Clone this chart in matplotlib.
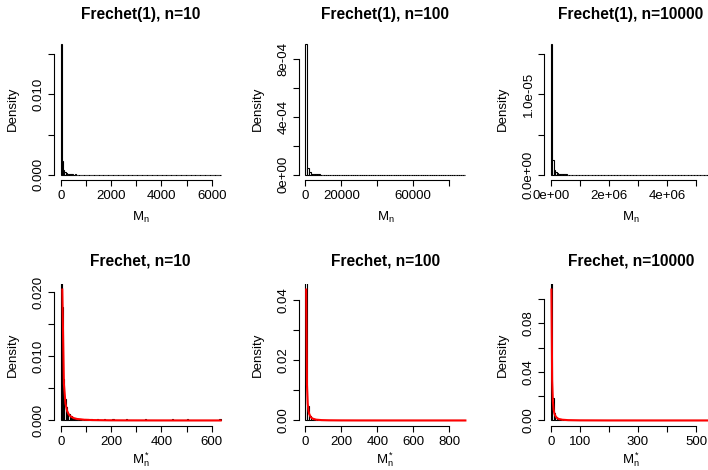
import matplotlib
matplotlib.use('Agg')
import matplotlib.pyplot as plt

plt.rcParams['font.family'] = ['Liberation Sans', 'DejaVu Sans']
plt.rcParams['mathtext.fontset'] = 'custom'
plt.rcParams['mathtext.rm'] = 'Liberation Sans'
plt.rcParams['mathtext.it'] = 'Liberation Sans'
plt.rcParams['mathtext.default'] = 'regular'

W, H = 708, 470

# sample sizes of the maxima
ns = [10, 100, 10000]
# bin width of the normalised maxima (bottom row); top row uses width * n
bin_width = [5, 10, 5]
n_bins = [127, 89, 110]
# counts in the first bins
head_counts = [
    [790, 86, 31, 16, 10, 6, 5, 3, 3, 2, 1, 2, 1, 0, 1, 1, 0, 0, 0, 1, 0, 1, 0, 0, 1],
    [890, 46, 16, 8, 5, 3, 2, 2, 1, 1, 0, 1, 1, 0, 0, 1],
    [800, 92, 31, 16, 10, 6, 5, 3, 3, 2, 2, 1, 1, 1, 0, 1, 0, 1],
]
# bins further out holding a single observation
tail_bins = [
    [29, 34, 41, 52, 67, 88, 100, 126],
    [18, 23, 31, 42, 57, 70, 88],
    [22, 27, 36, 48, 63, 85, 109],
]

# limiting Frechet density (red line)
curve_x = [
    [6.35, 12.7, 19.05, 25.4, 31.75, 38.1, 50.8, 63.5, 95, 127, 190, 254, 381, 508, 635],
    [4.3, 8.6, 12.9, 17.2, 21.5, 30, 40, 60, 90, 130, 200, 300, 450, 600, 890],
    [2.5, 5, 7.5, 10, 12.5, 15, 20, 25, 30, 40, 60, 100, 200, 350, 550],
]
curve_y = [
    [0.0204, 0.0057, 0.0026, 0.0015, 0.00096, 0.00067, 0.00038, 0.00024, 0.00011,
     0.000062, 0.000028, 0.000016, 0.000007, 0.000004, 0.0000025],
    [0.0435, 0.0120, 0.0056, 0.0032, 0.0021, 0.0011, 0.00061, 0.00027, 0.00012,
     0.000059, 0.000025, 0.000011, 0.000005, 0.000003, 0.0000013],
    [0.1077, 0.0328, 0.0156, 0.0091, 0.0059, 0.0042, 0.0024, 0.0015, 0.0011,
     0.00061, 0.00027, 0.0001, 0.000025, 0.000008, 0.0000033],
]

top_titles = ['Frechet(1), n=10', 'Frechet(1), n=100', 'Frechet(1), n=10000']
bottom_titles = ['Frechet, n=10', 'Frechet, n=100', 'Frechet, n=10000']

top_xticks = [[0, 1000, 2000, 3000, 4000, 5000, 6000],
              [0, 20000, 40000, 60000, 80000],
              [0, 1e6, 2e6, 3e6, 4e6, 5e6]]
top_xlabels = [['0', '', '2000', '', '4000', '', '6000'],
               ['0', '20000', '', '60000', ''],
               ['0e+00', '', '2e+06', '', '4e+06', '']]
top_yticks = [[0, 0.005, 0.010, 0.015],
              [0, 2e-4, 4e-4, 6e-4, 8e-4],
              [0, 5e-6, 1e-5, 1.5e-5]]
top_ylabels = [['0.000', '', '0.010', ''],
               ['0e+00', '', '4e-04', '', '8e-04'],
               ['0.0e+00', '', '1.0e-05', '']]

bot_xticks = [[0, 100, 200, 300, 400, 500, 600],
              [0, 200, 400, 600, 800],
              [0, 100, 200, 300, 400, 500]]
bot_xlabels = [['0', '', '200', '', '400', '', '600'],
               ['0', '200', '400', '600', '800'],
               ['0', '100', '', '300', '', '500']]
bot_yticks = [[0, 0.005, 0.010, 0.015, 0.020],
              [0, 0.01, 0.02, 0.03, 0.04],
              [0, 0.02, 0.04, 0.06, 0.08, 0.10]]
bot_ylabels = [['0.000', '', '0.010', '', '0.020'],
               ['0.00', '', '0.02', '', '0.04'],
               ['0.00', '', '0.04', '', '0.08', '']]

fig = plt.figure(figsize=(W / 100, H / 100), dpi=100)

lefts = [54.3, 299.0, 544.3]
tops = [38.6, 284.3]
pw, ph = 172.8, 141.4
fs = 9.5


def make_axes(left, top):
    return fig.add_axes([left / W, 1 - (top + ph) / H, pw / W, ph / H])


def style(ax, xt, xl, yt, yl, title, xlabel, left, top, xlab_off):
    ax.set_xticks(xt)
    ax.set_xticklabels(xl)
    ax.set_yticks(yt)
    ax.set_yticklabels(yl, rotation=90, va='center')
    for s in ['top', 'right']:
        ax.spines[s].set_visible(False)
    ax.spines['left'].set_bounds(yt[0], yt[-1])
    ax.spines['bottom'].set_bounds(xt[0], xt[-1])
    for s in ['left', 'bottom']:
        ax.spines[s].set_linewidth(0.8)
    ax.tick_params(direction='out', length=4, width=0.8, labelsize=fs)
    ax.tick_params(axis='x', pad=3.5)
    ax.tick_params(axis='y', pad=3)
    ax.set_ylabel('Density', fontsize=fs, va='center', ha='center')
    ax.yaxis.set_label_coords(-41.6 / pw, 0.5)
    ax.set_xlabel(xlabel, fontsize=fs, va='center')
    ax.xaxis.set_label_coords(0.5, -xlab_off / ph)
    fig.text((left + pw / 2) / W, 1 - (top - 23.6) / H, title,
             ha='center', va='center', fontsize=11.2, fontweight='bold')


for j in range(3):
    counts = head_counts[j] + [0] * (n_bins[j] - len(head_counts[j]))
    for b in tail_bins[j]:
        counts[b] += 1
    total = sum(counts)

    for row in range(2):
        w = bin_width[j] * (ns[j] if row == 0 else 1)
        edges = [i * w for i in range(n_bins[j])]
        dens = [c / (total * w) for c in counts]
        xmax = n_bins[j] * w
        ax = make_axes(lefts[j], tops[row])
        ax.bar(edges, dens, width=w, align='edge', facecolor='white',
               edgecolor='black', linewidth=0.8)
        if row == 0:
            ymax = max(dens)
            style(ax, top_xticks[j], top_xlabels[j], top_yticks[j], top_ylabels[j],
                  top_titles[j], r'$M_n$', lefts[j], tops[row], 37)
        else:
            ax.plot(curve_x[j], curve_y[j], color='red', lw=1.5)
            ymax = max(curve_y[j])
            style(ax, bot_xticks[j], bot_xlabels[j], bot_yticks[j], bot_ylabels[j],
                  bottom_titles[j], r'$M_n^*$', lefts[j], tops[row], 34)
        ax.set_xlim(-0.04 * xmax, 1.04 * xmax)
        ax.set_ylim(-0.04 * ymax, 1.04 * ymax)

fig.savefig('out.png', dpi=100)
